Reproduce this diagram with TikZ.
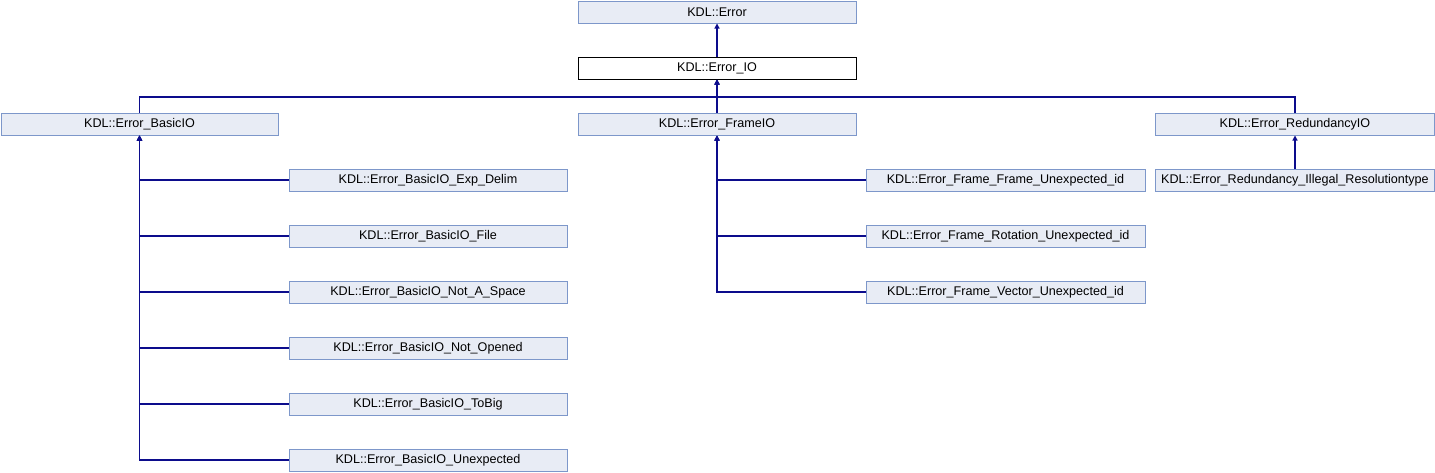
\documentclass[tikz,border=0pt]{standalone}
\usepackage{fontspec}
\setmainfont{Liberation Sans}
\usetikzlibrary{arrows.meta}
\definecolor{boxfill}{HTML}{E8ECF5}
\definecolor{boxdraw}{HTML}{7D97CA}
\definecolor{edge}{HTML}{0C0C8C}
\begin{document}
\begin{tikzpicture}[x=1pt,y=-1pt,
  cls/.style={draw=boxdraw,fill=boxfill,line width=1pt,minimum width=278pt,minimum height=22pt,inner sep=0pt,font=\fontsize{12.6}{15}\selectfont},
  cur/.style={cls,draw=black,fill=white},
  arr/.style={draw=edge,line width=1.2pt,-{Triangle[length=5pt,width=5pt]}}]
\useasboundingbox (0,0) rectangle (1435,472);
\node[cls] (E) at (717,12) {KDL::Error};
\node[cur] (IO) at (717,68) {KDL::Error\_IO};
\node[cls,minimum width=277pt] (B) at (139.5,124) {KDL::Error\_BasicIO};
\node[cls] (F) at (717,124) {KDL::Error\_FrameIO};
\node[cls,minimum width=279pt] (R) at (1295,124) {KDL::Error\_RedundancyIO};
\node[cls,minimum width=279pt] (RI) at (1295,180) {KDL::Error\_Redundancy\_Illegal\_Resolutiontype};
\node[cls] (B1) at (428,180) {KDL::Error\_BasicIO\_Exp\_Delim};
\node[cls] (B2) at (428,236) {KDL::Error\_BasicIO\_File};
\node[cls] (B3) at (428,292) {KDL::Error\_BasicIO\_Not\_A\_Space};
\node[cls] (B4) at (428,348) {KDL::Error\_BasicIO\_Not\_Opened};
\node[cls] (B5) at (428,404) {KDL::Error\_BasicIO\_ToBig};
\node[cls] (B6) at (428,460) {KDL::Error\_BasicIO\_Unexpected};
\node[cls,minimum width=279pt] (F1) at (1005.5,180) {KDL::Error\_Frame\_Frame\_Unexpected\_id};
\node[cls,minimum width=279pt] (F2) at (1005.5,236) {KDL::Error\_Frame\_Rotation\_Unexpected\_id};
\node[cls,minimum width=279pt] (F3) at (1005.5,292) {KDL::Error\_Frame\_Vector\_Unexpected\_id};
\coordinate (bus) at (717,97);
\draw[arr] (IO) -- (E);
\draw[arr] (F) -- (IO);
\draw[arr] (B.north) |- (bus) -- (IO.south);
\draw[arr] (R.north) |- (bus) -- (IO.south);
\draw[arr] (RI) -- (R);
\foreach \c in {B1,B2,B3,B4,B5,B6} \draw[arr] (\c.west) -| (B.south);
\foreach \c in {F1,F2,F3} \draw[arr] (\c.west) -| (F.south);
\end{tikzpicture}
\end{document}
